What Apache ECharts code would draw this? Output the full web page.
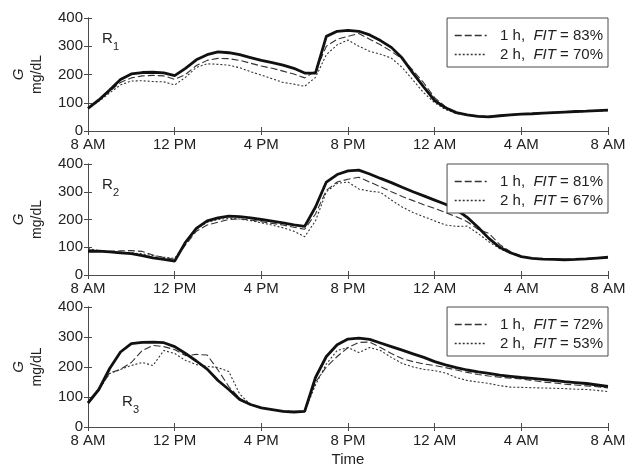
<!DOCTYPE html>
<html>
<head>
<meta charset="utf-8">
<script src="https://cdn.jsdelivr.net/npm/echarts@6/dist/echarts.min.js"></script>
<style>html,body{margin:0;padding:0;background:#fff}#c{width:634px;height:468px}</style>
</head>
<body>
<div id="c"></div>
<script>
// ---- data ----
const hours = [0,0.5,1,1.5,2,2.5,3,3.5,4,4.5,5,5.5,6,6.5,7,7.5,8,8.5,9,9.5,10,10.5,11,11.5,12,12.5,13,13.5,14,14.5,15,15.5,16,16.5,17,17.5,18,18.5,19,19.5,20,20.5,21,21.5,22,22.5,23,23.5,24];
const tickLabels = ['8 AM','12 PM','4 PM','8 PM','12 AM','4 AM','8 AM'];
const yTicks = [0,100,200,300,400];

const r1Measured = [80,110,145,182,202,207,208,206,196,222,252,270,280,277,270,260,250,242,233,222,205,205,335,353,356,353,340,320,296,258,205,155,108,82,65,57,52,50,54,57,60,61,63,65,67,69,70,72,74];
const r1Pred1h   = [80,108,140,172,188,195,197,195,183,200,232,250,257,256,250,240,230,222,212,202,188,212,300,325,335,345,325,305,282,255,215,170,118,86,66,58,53,52,55,58,60,62,64,66,67,68,70,72,73];
const r1Pred2h   = [80,105,135,163,177,178,175,174,163,190,225,238,236,233,224,210,198,185,172,166,158,190,270,305,322,300,282,272,258,225,180,135,100,76,62,56,52,51,54,57,59,61,62,64,66,68,69,71,72];

const r2Measured = [85,86,83,80,77,70,62,56,50,118,168,195,206,212,210,206,200,194,188,181,175,245,335,362,375,378,364,348,333,316,300,285,270,255,236,208,172,132,100,80,66,60,57,56,55,56,58,61,64];
const r2Pred1h   = [92,88,85,87,88,85,72,63,56,108,158,180,190,200,202,198,192,186,180,172,165,220,305,335,345,352,335,318,300,283,268,253,240,225,210,192,165,150,110,84,68,61,58,57,56,57,59,61,63];
const r2Pred2h   = [95,88,84,82,80,76,70,64,60,112,165,190,200,205,202,196,188,180,170,158,138,195,300,330,335,310,302,298,270,245,225,210,195,180,175,176,150,120,95,78,66,60,57,56,56,57,59,61,63];

const r3Measured = [80,125,195,250,278,282,283,281,268,245,220,193,155,125,92,75,64,58,52,50,52,165,235,274,293,296,292,280,268,256,244,232,218,207,198,190,184,179,173,169,165,162,159,155,151,148,145,140,135];
const r3Pred1h   = [80,125,180,192,215,255,272,268,258,238,242,240,190,135,95,76,64,58,53,51,52,150,200,235,265,282,283,265,245,228,218,210,205,198,190,182,175,170,166,163,160,155,150,147,143,140,137,134,130];
const r3Pred2h   = [80,125,178,192,205,215,205,255,245,222,208,202,198,185,110,75,64,58,53,51,52,140,210,255,265,248,265,255,232,212,200,192,188,180,165,155,150,145,138,133,132,131,130,129,128,126,125,122,118];

const panelNames = ['1','2','3'];
const fit1h = ['83%','81%','72%'];
const fit2h = ['70%','67%','53%'];
const panels = [
  [r1Measured, r1Pred1h, r1Pred2h],
  [r2Measured, r2Pred1h, r2Pred2h],
  [r3Measured, r3Pred1h, r3Pred2h]
];

// ---- layout ----
const FONT = 'Liberation Sans';
const grids = [
  {left: 88, right: 26, top: 18, height: 113},
  {left: 88, right: 26, top: 164, height: 111},
  {left: 88, right: 26, top: 307, height: 121}
];
const frame = '#4a4a4a';
const txt = '#222';

const xAxes = [], yAxes = [], series = [], legends = [];
grids.forEach((g, i) => {
  xAxes.push({
    gridIndex: i, type: 'value', min: 0, max: 24, interval: 4, position: 'bottom',
    axisLine: {lineStyle: {color: frame, width: 1}},
    axisTick: {inside: true, length: 4, lineStyle: {color: frame}},
    splitLine: {show: false},
    axisLabel: {color: txt, fontSize: 15, fontFamily: FONT, margin: 6,
      formatter: v => tickLabels[Math.round(v / 4)]},
    name: i === 2 ? 'Time' : '', nameLocation: 'middle', nameGap: 25,
    nameTextStyle: {color: txt, fontSize: 15, fontFamily: FONT}
  });
  xAxes.push({
    gridIndex: i, type: 'value', min: 0, max: 24, interval: 4, position: 'top',
    axisLine: {lineStyle: {color: frame, width: 1}},
    axisTick: {inside: true, length: 4, lineStyle: {color: frame}},
    splitLine: {show: false}, axisLabel: {show: false}
  });
  yAxes.push({
    gridIndex: i, type: 'value', min: yTicks[0], max: yTicks[yTicks.length - 1], interval: 100, position: 'left',
    axisLine: {show: true, lineStyle: {color: frame, width: 1}},
    axisTick: {show: true, inside: true, length: 4, lineStyle: {color: frame}},
    splitLine: {show: false},
    axisLabel: {color: txt, fontSize: 15, fontFamily: FONT, margin: 5},
    name: '{i|G}\n{n|mg/dL}', nameLocation: 'middle', nameRotate: 90, nameGap: 38,
    nameTextStyle: {color: txt, fontSize: 15, fontFamily: FONT, lineHeight: 19,
      rich: {i: {fontStyle: 'italic', fontSize: 15, fontFamily: FONT, color: txt},
             n: {fontSize: 14, fontFamily: FONT, color: txt}}}
  });
  yAxes.push({
    gridIndex: i, type: 'value', min: 0, max: 400, interval: 100, position: 'right',
    axisLine: {show: true, lineStyle: {color: frame, width: 1}},
    axisTick: {show: true, inside: true, length: 4, lineStyle: {color: frame}},
    splitLine: {show: false}, axisLabel: {show: false}
  });
  const [meas, p1, p2] = panels[i];
  const n1 = '1 h,  FIT = ' + fit1h[i];
  const n2 = '2 h,  FIT = ' + fit2h[i];
  series.push({
    name: 'R' + panelNames[i], type: 'line', xAxisIndex: 2 * i, yAxisIndex: 2 * i,
    data: hours.map((h, k) => [h, meas[k]]), symbol: 'none', z: 3,
    lineStyle: {color: '#111', width: 2.8, type: 'solid'}, itemStyle: {color: '#111'}
  });
  series.push({
    name: n1, type: 'line', xAxisIndex: 2 * i, yAxisIndex: 2 * i,
    data: hours.map((h, k) => [h, p1[k]]), symbol: 'none', z: 2,
    lineStyle: {color: '#333', width: 1.1, type: [7, 3]}, itemStyle: {color: '#333'}
  });
  series.push({
    name: n2, type: 'line', xAxisIndex: 2 * i, yAxisIndex: 2 * i,
    data: hours.map((h, k) => [h, p2[k]]), symbol: 'none', z: 2,
    lineStyle: {color: '#333', width: 1.1, type: [2, 2]}, itemStyle: {color: '#333'}
  });
  legends.push({
    data: [n1, n2], orient: 'vertical', right: 26, top: g.top,
    backgroundColor: '#fff', borderColor: frame, borderWidth: 1,
    padding: [10, 5, 5, 7], itemGap: 4, itemWidth: 32, itemHeight: 16,
    selectedMode: false,
    itemStyle: {opacity: 0, borderWidth: 0},
    lineStyle: {width: 1.3},
    textStyle: {color: txt, fontSize: 15, fontFamily: FONT,
      rich: {i: {fontStyle: 'italic', fontSize: 15, fontFamily: FONT, color: txt}}},
    formatter: name => '  ' + name.replace('FIT', '{i|FIT}')
  });
});

const labelPos = [[102, 31], [102, 177], [122, 394]];
const graphics = [];
labelPos.forEach((p, i) => {
  graphics.push({type: 'text', left: p[0], top: p[1], z: 10,
    style: {text: 'R', fontSize: 15, fontFamily: FONT, fill: txt}});
  graphics.push({type: 'text', left: p[0] + 11, top: p[1] + 10, z: 10,
    style: {text: panelNames[i], fontSize: 11, fontFamily: FONT, fill: txt}});
});

const chart = echarts.init(document.getElementById('c'), null, {renderer: 'canvas'});
chart.setOption({
  animation: false,
  backgroundColor: '#fff',
  textStyle: {fontFamily: FONT},
  grid: grids,
  xAxis: xAxes,
  yAxis: yAxes,
  legend: legends,
  series: series,
  graphic: graphics
});
</script>
</body>
</html>
